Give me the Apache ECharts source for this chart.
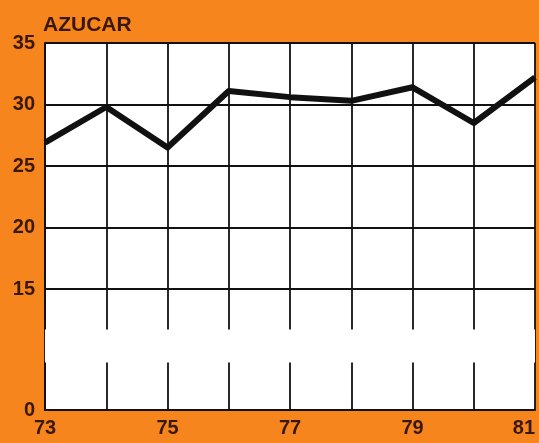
<!DOCTYPE html>
<html>
<head>
<meta charset="utf-8">
<script src="https://cdn.jsdelivr.net/npm/echarts@6/dist/echarts.min.js"></script>
<style>
  html, body { margin: 0; padding: 0; background: #f7851d; }
  #chart { width: 539px; height: 443px; }
</style>
</head>
<body>
<div id="chart"></div>
<script>
// años (eje x) y precio del azúcar
const years = ['73', '74', '75', '76', '77', '78', '79', '80', '81']
const azucar = [26.9, 29.8, 26.5, 31.1, 30.6, 30.3, 31.4, 28.5, 32.2]
const yTicks = [0, 15, 20, 25, 30, 35]

const textColor = '#3a1808'
const chart = echarts.init(document.getElementById('chart'))

const option = {
    backgroundColor: '#f7851d',
    animation: false,
    title: {
        text: 'AZUCAR',
        left: 43,
        top: 15,
        padding: 0,
        textStyle: { color: textColor, fontSize: 21, fontWeight: 'bold', fontFamily: 'Liberation Sans' }
    },
    grid: { left: 45, top: 43, right: 4, bottom: 33, backgroundColor: '#fff', show: true, borderWidth: 0 },
    xAxis: {
        type: 'category',
        data: years,
        boundaryGap: false,
        axisLine: { lineStyle: { color: '#111', width: 2 } },
        axisTick: { show: false },
        axisLabel: {
            interval: 1,
            color: textColor,
            fontSize: 20,
            fontWeight: 'bold',
            fontFamily: 'Liberation Sans',
            margin: 8,
            alignMaxLabel: 'right'
        },
        splitLine: { show: true, interval: 0, lineStyle: { color: '#111', width: 1.8 } }
    },
    yAxis: {
        type: 'value',
        min: 0,
        max: 35,
        interval: 5,
        breaks: [{ start: 3.9, end: 11.75, gap: 2.68 }],
        breakArea: {
            show: true,
            expandOnClick: false,
            zigzagAmplitude: 0,
            zigzagZ: 100,
            itemStyle: { color: '#fff', borderColor: '#fff', borderWidth: 0, opacity: 1 }
        },
        axisLine: { show: true, lineStyle: { color: '#111', width: 2 } },
        axisTick: { show: false, customValues: yTicks },
        axisLabel: {
            color: textColor,
            fontSize: 20,
            fontWeight: 'bold',
            fontFamily: 'Liberation Sans',
            margin: 10,
            customValues: yTicks
        },
        splitLine: { show: true, lineStyle: { color: '#111', width: 1.8 } }
    },
    series: [{
        type: 'line',
        data: azucar,
        showSymbol: false,
        z: 10,
        lineStyle: { color: '#111', width: 6, join: 'round' }
    }]
}
chart.setOption(option)
</script>
</body>
</html>
